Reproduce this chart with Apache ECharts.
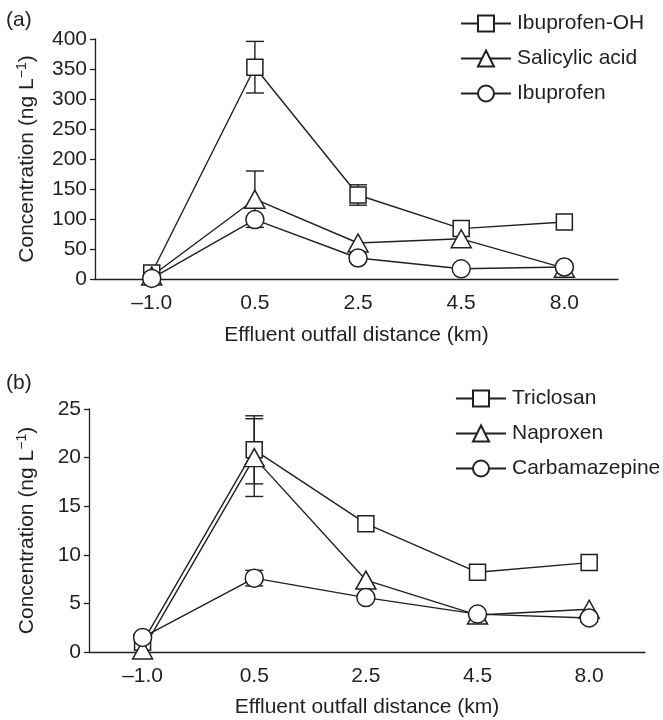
<!DOCTYPE html>
<html>
<head>
<meta charset="utf-8">
<script src="https://cdn.jsdelivr.net/npm/echarts@6/dist/echarts.min.js"></script>
<style>
  html, body { margin: 0; padding: 0; background: #fff; }
  #chart { width: 663px; height: 720px; }
</style>
</head>
<body>
<div id="chart"></div>
<script>
// distance labels (km), shared by both panels
const distances = ['\u20131.0', '0.5', '2.5', '4.5', '8.0'];

// panel (a), ng/L
const ibuprofenOH = [10, 353, 140, 84, 95];
const ibuprofenOHErr = [0, 43, 17, 0, 0];
const salicylicAcid = [5, 133, 60, 67, 18];
const salicylicAcidErr = [0, 47, 0, 0, 0];
const ibuprofen = [1, 99, 35, 17, 20];
const ibuprofenErr = [0, 0, 0, 0, 5];
const ticksA = { min: 0, max: 400, interval: 50 };

// panel (b), ng/L
const triclosan = [1.0, 20.8, 13.2, 8.2, 9.2];
const triclosanErr = [0, 3.5, 0, 0, 0];
const naproxen = [0.2, 20.0, 7.4, 3.8, 4.4];
const naproxenErr = [0, 4.0, 0, 0, 0];
const carbamazepine = [1.5, 7.6, 5.6, 3.9, 3.5];
const carbamazepineErr = [0, 0.8, 0, 0, 0];
const ticksB = { min: 0, max: 25, interval: 5 };

const FONT = '"Liberation Sans", Arial, Helvetica, sans-serif';
const INK = '#231f20';
const FS = 21;

const chart = echarts.init(document.getElementById('chart'));

const toPoints = (vals) => vals.map((v, i) => [i, v]);

const errData = (vals, errs) => vals
  .map((v, i) => [i, v - errs[i], v + errs[i]])
  .filter((d, i) => errs[i] > 0);

const renderErr = (params, api) => {
  const lo = api.coord([api.value(0), api.value(1)]);
  const hi = api.coord([api.value(0), api.value(2)]);
  const w = 9;
  const style = { stroke: INK, lineWidth: 1.4 };
  return {
    type: 'group',
    children: [
      { type: 'line', shape: { x1: hi[0], y1: hi[1], x2: lo[0], y2: lo[1] }, style },
      { type: 'line', shape: { x1: hi[0] - w, y1: hi[1], x2: hi[0] + w, y2: hi[1] }, style },
      { type: 'line', shape: { x1: lo[0] - w, y1: lo[1], x2: lo[0] + w, y2: lo[1] }, style }
    ]
  };
};

const symbols = {
  square: { symbol: 'rect', symbolSize: 16 },
  triangle: { symbol: 'triangle', symbolSize: [20, 18] },
  circle: { symbol: 'circle', symbolSize: 18 }
};

const lineSeries = (name, vals, shape, idx) => ({
  name,
  type: 'line',
  xAxisIndex: idx,
  yAxisIndex: idx,
  data: toPoints(vals),
  symbol: symbols[shape].symbol,
  symbolSize: symbols[shape].symbolSize,
  showAllSymbol: true,
  lineStyle: { color: INK, width: 1.4 },
  itemStyle: { color: '#fff', borderColor: INK, borderWidth: 1.5 },
  emphasis: { disabled: true },
  z: 3
});

const errSeries = (vals, errs, idx) => ({
  type: 'custom',
  xAxisIndex: idx,
  yAxisIndex: idx,
  data: errData(vals, errs),
  encode: { x: 0, y: [1, 2] },
  renderItem: renderErr,
  silent: true,
  z: 1
});

const xAxisCfg = (idx, min, max, gap) => ({
  type: 'value',
  gridIndex: idx,
  min,
  max,
  name: 'Effluent outfall distance (km)',
  nameLocation: 'middle',
  nameGap: gap,
  nameTextStyle: { fontFamily: FONT, fontSize: FS, color: INK },
  axisLine: { onZero: false, lineStyle: { color: INK, width: 1.3 } },
  axisTick: { show: false },
  splitLine: { show: false },
  axisLabel: {
    customValues: [0, 1, 2, 3, 4],
    formatter: (v) => distances[Math.round(v)],
    margin: 14,
    fontFamily: FONT,
    fontSize: FS,
    color: INK
  }
});

const yAxisCfg = (idx, ticks, gap) => ({
  type: 'value',
  gridIndex: idx,
  min: ticks.min,
  max: ticks.max,
  interval: ticks.interval,
  name: 'Concentration (ng L{sup|\u22121})',
  nameLocation: 'middle',
  nameGap: gap,
  nameTextStyle: {
    fontFamily: FONT,
    fontSize: FS,
    color: INK,
    rich: { sup: { fontFamily: FONT, fontSize: 14, color: INK, verticalAlign: 'top', padding: [0, 0, 10, 0] } }
  },
  axisLine: { show: true, onZero: false, lineStyle: { color: INK, width: 1.3 } },
  axisTick: { show: true, length: 5, lineStyle: { color: INK, width: 1.3 } },
  splitLine: { show: false },
  axisLabel: { margin: 8, fontFamily: FONT, fontSize: FS, color: INK }
});

const legendCfg = (names, left, top) => ({
  data: names,
  orient: 'vertical',
  left,
  top,
  padding: 0,
  itemWidth: 50,
  itemHeight: 20,
  itemGap: 14,
  selectedMode: false,
  textStyle: { fontFamily: FONT, fontSize: FS, color: INK, padding: [0, 0, 0, 1] }
});

chart.setOption({
  animation: false,
  backgroundColor: '#fff',
  title: [
    { text: '(a)', left: 6, top: 10, padding: 0, textStyle: { fontFamily: FONT, fontSize: FS, fontWeight: 'normal', color: INK } },
    { text: '(b)', left: 6, top: 373, padding: 0, textStyle: { fontFamily: FONT, fontSize: FS, fontWeight: 'normal', color: INK } }
  ],
  legend: [
    legendCfg(['Ibuprofen-OH', 'Salicylic acid', 'Ibuprofen'], 460, 13),
    legendCfg(['Triclosan', 'Naproxen', 'Carbamazepine'], 455, 388)
  ],
  grid: [
    { left: 95, right: 45, top: 39, height: 240 },
    { left: 89, right: 18, top: 409, height: 243 }
  ],
  xAxis: [
    xAxisCfg(0, -0.55, 4.52, 46),
    xAxisCfg(1, -0.48, 4.5, 45)
  ],
  yAxis: [
    yAxisCfg(0, ticksA, 56),
    yAxisCfg(1, ticksB, 50)
  ],
  series: [
    errSeries(ibuprofenOH, ibuprofenOHErr, 0),
    errSeries(salicylicAcid, salicylicAcidErr, 0),
    errSeries(ibuprofen, ibuprofenErr, 0),
    lineSeries('Ibuprofen-OH', ibuprofenOH, 'square', 0),
    lineSeries('Salicylic acid', salicylicAcid, 'triangle', 0),
    lineSeries('Ibuprofen', ibuprofen, 'circle', 0),
    errSeries(triclosan, triclosanErr, 1),
    errSeries(naproxen, naproxenErr, 1),
    errSeries(carbamazepine, carbamazepineErr, 1),
    lineSeries('Triclosan', triclosan, 'square', 1),
    lineSeries('Naproxen', naproxen, 'triangle', 1),
    lineSeries('Carbamazepine', carbamazepine, 'circle', 1)
  ]
});
</script>
</body>
</html>
